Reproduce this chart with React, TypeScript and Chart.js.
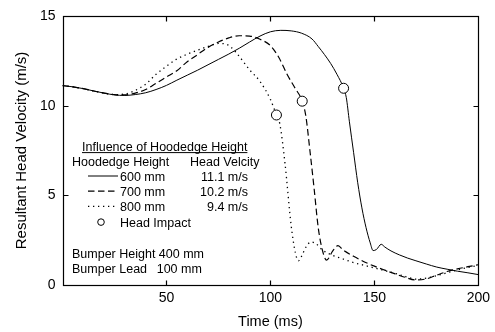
import React, { useEffect, useRef } from "react";
import { Chart, registerables } from "chart.js";

Chart.register(...registerables);

// 600 mm hoodedge height (solid)
const time600 = [0, 5, 10, 15, 20, 25, 30, 35, 40, 45, 50, 55, 60, 65, 70, 75, 80, 85, 90, 95, 100, 105, 110, 115, 120, 123, 126, 129, 132, 135.2, 136.5, 138, 140, 142, 144, 146, 148, 149.4, 151, 153.3, 155, 158, 162, 166, 170, 175, 180, 185, 190, 195, 200];
const vel600 = [11.12, 11.05, 10.95, 10.82, 10.7, 10.6, 10.57, 10.62, 10.72, 10.9, 11.13, 11.42, 11.7, 11.98, 12.28, 12.58, 12.88, 13.2, 13.55, 13.88, 14.12, 14.2, 14.17, 14.04, 13.72, 13.3, 12.85, 12.35, 11.75, 10.97, 10.45, 9.1, 7.4, 5.7, 4.3, 3.2, 2.35, 1.92, 1.98, 2.27, 2.12, 1.9, 1.68, 1.5, 1.35, 1.17, 1.0, 0.88, 0.77, 0.68, 0.58];

// 700 mm hoodedge height (dashed)
const time700 = [0, 5, 10, 15, 20, 25, 30, 35, 40, 45, 50, 55, 60, 65, 70, 75, 80, 85, 90, 95, 100, 104, 108, 112, 115.3, 117, 119, 121, 123, 125, 127, 130, 132.5, 135, 140, 145, 150, 155, 160, 165, 169.5, 175, 180, 185, 190, 195, 200];
const vel700 = [11.12, 11.05, 10.95, 10.82, 10.7, 10.62, 10.6, 10.7, 10.9, 11.25, 11.6, 11.95, 12.45, 12.85, 13.25, 13.55, 13.78, 13.9, 13.88, 13.7, 13.35, 12.7, 11.75, 10.95, 10.25, 9.45, 7.5, 5.4, 3.2, 1.95, 1.39, 1.9, 2.2, 1.95, 1.6, 1.3, 1.05, 0.83, 0.62, 0.42, 0.28, 0.34, 0.55, 0.75, 0.9, 1.02, 1.13];

// 800 mm hoodedge height (dotted)
const time800 = [0, 5, 10, 15, 20, 25, 30, 35, 40, 45, 50, 55, 60, 65, 70, 75, 78, 81, 85, 90, 95, 100, 102.9, 104.5, 107, 110, 112, 113.5, 115, 117, 119.5, 122, 125, 130, 135, 140, 145, 150, 155, 160, 165, 170, 175, 180, 185, 190, 195, 200];
const vel800 = [11.12, 11.05, 10.95, 10.82, 10.7, 10.62, 10.65, 10.85, 11.2, 11.75, 12.2, 12.6, 12.87, 13.1, 13.3, 13.47, 13.45, 13.27, 12.75, 12.0, 11.35, 10.35, 9.48, 9.0, 6.8, 3.3, 1.8, 1.35, 1.6, 2.1, 2.4, 2.3, 1.95, 1.65, 1.45, 1.25, 1.1, 0.95, 0.8, 0.65, 0.47, 0.33, 0.38, 0.52, 0.68, 0.84, 0.98, 1.08];

// Head impact markers
const impactTimes = [135.2, 115.3, 102.9];
const impactVels = [10.97, 10.25, 9.48];

const xTicks = [50, 100, 150, 200];
const yTicks = [0, 5, 10, 15];

const legendTitle = "Influence of Hoodedge Height";
const legendHeader = ["Hoodedge Height", "Head Velcity"];
const legendHeights = ["600 mm", "700 mm", "800 mm"];
const legendVelocities = ["11.1 m/s", "10.2 m/s", "9.4 m/s"];
const impactLabel = "Head Impact";
const noteLines = ["Bumper Height 400 mm", "Bumper Lead"];
const noteValue = "100 mm";

const FONT = "'Liberation Sans', Arial, sans-serif";
const dashStyles: number[][] = [[], [6.5, 3.5], [1.3, 3.7]];
const dashWidths = [1, 1.2, 1.3];

function pts(t: number[], v: number[]) {
  return t.map((x, i) => ({ x, y: v[i] }));
}

const framePlugin = {
  id: "frameAndLegend",
  afterDraw(chart: any) {
    const { ctx, chartArea: a, scales } = chart;
    ctx.save();
    ctx.strokeStyle = "#000";
    ctx.lineWidth = 1.2;
    ctx.setLineDash([]);
    const L = Math.round(a.left) + 0.5;
    const R = Math.round(a.right) + 0.5;
    const T = Math.round(a.top) + 0.5;
    const B = Math.round(a.bottom) + 0.5;
    ctx.strokeRect(L, T, R - L, B - T);
    const tl = 5;
    ctx.beginPath();
    for (const v of xTicks) {
      const px = Math.round(scales.x.getPixelForValue(v)) + 0.5;
      if (px >= R - 1) continue;
      ctx.moveTo(px, B);
      ctx.lineTo(px, B - tl);
      ctx.moveTo(px, T);
      ctx.lineTo(px, T + tl);
    }
    for (const v of yTicks) {
      const py = Math.round(scales.y.getPixelForValue(v)) + 0.5;
      if (py <= T + 1 || py >= B - 1) continue;
      ctx.moveTo(L, py);
      ctx.lineTo(L + tl, py);
      ctx.moveTo(R, py);
      ctx.lineTo(R - tl, py);
    }
    ctx.stroke();

    // legend block
    ctx.fillStyle = "#000";
    ctx.font = `12.5px ${FONT}`;
    ctx.textBaseline = "alphabetic";
    ctx.textAlign = "left";
    const rowH = 15.2;
    const base0 = 150.6;
    ctx.fillText(legendTitle, 82, base0);
    const tw = ctx.measureText(legendTitle).width;
    ctx.lineWidth = 1;
    ctx.beginPath();
    ctx.moveTo(82, base0 + 2);
    ctx.lineTo(82 + tw, base0 + 2);
    ctx.stroke();
    ctx.fillText(legendHeader[0], 72, base0 + rowH);
    ctx.fillText(legendHeader[1], 190, base0 + rowH);
    for (let i = 0; i < legendHeights.length; i++) {
      const by = base0 + rowH * (i + 2);
      ctx.save();
      ctx.setLineDash(dashStyles[i]);
      ctx.lineWidth = dashWidths[i];
      ctx.beginPath();
      ctx.moveTo(88, by - 5);
      ctx.lineTo(118, by - 5);
      ctx.stroke();
      ctx.restore();
      ctx.textAlign = "left";
      ctx.fillText(legendHeights[i], 120, by);
      ctx.textAlign = "right";
      ctx.fillText(legendVelocities[i], 248, by);
    }
    ctx.textAlign = "left";
    const byImp = base0 + rowH * 5;
    ctx.beginPath();
    ctx.lineWidth = 1;
    ctx.fillStyle = "#fff";
    ctx.arc(101, byImp - 4.5, 3.3, 0, Math.PI * 2);
    ctx.fill();
    ctx.stroke();
    ctx.fillStyle = "#000";
    ctx.fillText(impactLabel, 120, byImp);
    ctx.fillText(noteLines[0], 72, 258);
    ctx.fillText(noteLines[1], 72, 272.7);
    ctx.fillText(noteValue, 156.7, 272.7);
    ctx.restore();
  },
};

export default function App() {
  const ref = useRef<HTMLCanvasElement | null>(null);
  useEffect(() => {
    if (!ref.current) return;
    const lineDs = (t: number[], v: number[], i: number) => ({
      type: "line" as const,
      data: pts(t, v),
      borderColor: "#000",
      borderWidth: dashWidths[i],
      borderDash: dashStyles[i],
      pointRadius: 0,
      fill: false,
      cubicInterpolationMode: "monotone" as const,
      order: 1,
    });
    const chart = new Chart(ref.current, {
      type: "line",
      data: {
        datasets: [
          {
            type: "scatter" as any,
            data: pts(impactTimes, impactVels),
            showLine: false,
            pointRadius: 5,
            pointBackgroundColor: "#fff",
            pointBorderColor: "#000",
            pointBorderWidth: 1,
            order: 0,
          } as any,
          lineDs(time600, vel600, 0),
          lineDs(time700, vel700, 1),
          lineDs(time800, vel800, 2),
        ],
      },
      options: {
        animation: false,
        responsive: false,
        maintainAspectRatio: false,
        layout: { padding: { left: 0, right: 15, top: 16, bottom: 0 } },
        plugins: { legend: { display: false }, tooltip: { enabled: false } },
        scales: {
          x: {
            type: "linear",
            min: 0,
            max: 200,
            grid: { display: false, drawTicks: false },
            border: { display: false },
            ticks: {
              stepSize: 50,
              padding: 5,
              color: "#000",
              font: { family: FONT, size: 14 },
              callback: (v: any) => (v === 0 ? "" : String(v)),
            },
            title: {
              display: true,
              text: "Time (ms)",
              color: "#000",
              font: { family: FONT, size: 14.5 },
              padding: { top: 0, bottom: 1 },
            },
            afterFit: (s: any) => {
              s.height = 47;
            },
          },
          y: {
            type: "linear",
            min: 0,
            max: 15,
            grid: { display: false, drawTicks: false },
            border: { display: false },
            ticks: {
              stepSize: 5,
              padding: 7,
              color: "#000",
              font: { family: FONT, size: 14 },
            },
            title: {
              display: true,
              text: "Resultant Head Velocity (m/s)",
              color: "#000",
              font: { family: FONT, size: 15 },
              padding: { top: 13, bottom: 0 },
            },
            afterFit: (s: any) => {
              s.width = 62.5;
            },
          },
        },
      },
      plugins: [framePlugin],
    });
    return () => chart.destroy();
  }, []);
  return (
    <div style={{ position: "fixed", left: 0, top: 0, width: 495, height: 332, background: "#fff" }}>
      <canvas ref={ref} width={495} height={332} style={{ width: 495, height: 332, display: "block" }} />
    </div>
  );
}
